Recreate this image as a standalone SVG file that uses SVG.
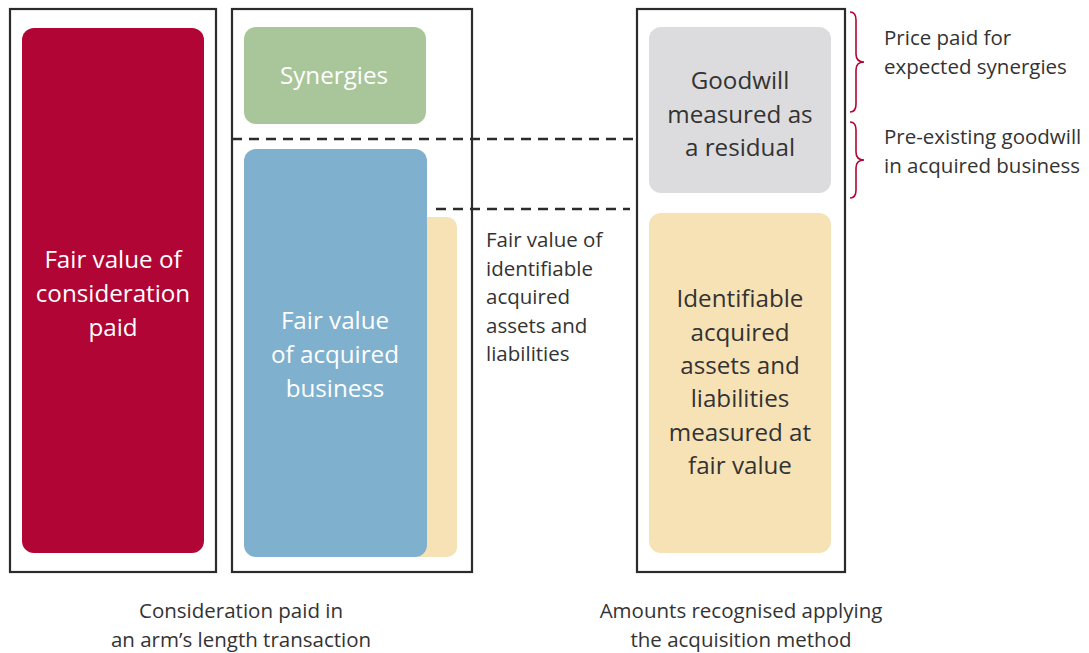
<svg xmlns="http://www.w3.org/2000/svg" width="1089" height="653" viewBox="0 0 1089 653">
<style>
.frame{fill:none;stroke:#2b2b2b;stroke-width:2.2}
.dash{stroke:#2b2b2b;stroke-width:2.5;stroke-dasharray:10,7;fill:none}
.brace{fill:none;stroke:#b10535;stroke-width:1.6}
text{font-family:"Open Sans","Noto Sans",sans-serif;fill:#333}
.big{font-size:24.2px;text-anchor:middle}
.w{fill:#fff}
.sm{font-size:20.5px}
.cap{font-size:20.5px;text-anchor:middle}
</style>
<rect width="1089" height="653" fill="#fff"/>
<g id="connectors">
<line class="dash" x1="232" y1="139" x2="634" y2="139"/>
<line class="dash" x1="436" y1="209" x2="630" y2="209"/>
<path class="brace" d="M850,12 Q856,12 856,20 L856,54 Q856,62 864,62 Q856,62 856,70 L856,104 Q856,112 850,112"/>
<path class="brace" d="M850,122 Q856,122 856,130 L856,152 Q856,160 864,160 Q856,160 856,168 L856,190 Q856,198 850,198"/>
</g>
<g id="frame1"><rect class="frame" x="10" y="9" width="206" height="563"/></g>
<g id="frame2"><rect class="frame" x="232" y="9" width="240" height="563"/></g>
<g id="frame3"><rect class="frame" x="637" y="9" width="208" height="563"/></g>
<g id="consideration">
<rect x="22" y="28" width="182" height="525" rx="12" fill="#b10535"/>
<text class="big w" x="113" y="268">Fair value of</text>
<text class="big w" x="113" y="302">consideration</text>
<text class="big w" x="113" y="336">paid</text>
</g>
<g id="synergies">
<rect x="244" y="27" width="182" height="97" rx="12" fill="#a9c69a"/>
<text class="big w" x="334" y="84">Synergies</text>
</g>
<g id="identifiable-behind">
<rect x="410" y="217" width="47" height="340" rx="10" fill="#f7e2b6"/>
</g>
<g id="acquired-business">
<rect x="244" y="149" width="183" height="408" rx="12" fill="#7fb0ce"/>
<text class="big w" x="335" y="329">Fair value</text>
<text class="big w" x="335" y="363">of acquired</text>
<text class="big w" x="335" y="397">business</text>
</g>
<g id="fv-label">
<text class="sm" x="486" y="247">Fair value of</text>
<text class="sm" x="486" y="276">identifiable</text>
<text class="sm" x="486" y="304">acquired</text>
<text class="sm" x="486" y="333">assets and</text>
<text class="sm" x="486" y="361">liabilities</text>
</g>
<g id="goodwill">
<rect x="649" y="27" width="182" height="166" rx="12" fill="#dcdcde"/>
<text class="big" x="740" y="89">Goodwill</text>
<text class="big" x="740" y="123">measured as</text>
<text class="big" x="740" y="156">a residual</text>
</g>
<g id="identifiable">
<rect x="649" y="213" width="182" height="340" rx="12" fill="#f7e2b6"/>
<text class="big" x="740" y="307">Identifiable</text>
<text class="big" x="740" y="341">acquired</text>
<text class="big" x="740" y="374">assets and</text>
<text class="big" x="740" y="407">liabilities</text>
<text class="big" x="740" y="441">measured at</text>
<text class="big" x="740" y="474">fair value</text>
</g>
<g id="brace-labels">
<text class="sm" x="884" y="45">Price paid for</text>
<text class="sm" x="884" y="74">expected synergies</text>
<text class="sm" x="884" y="144">Pre-existing goodwill</text>
<text class="sm" x="884" y="173">in acquired business</text>
</g>
<g id="captions">
<text class="cap" x="241" y="618">Consideration paid in</text>
<text class="cap" x="241" y="647">an arm’s length transaction</text>
<text class="cap" x="741" y="618">Amounts recognised applying</text>
<text class="cap" x="741" y="647">the acquisition method</text>
</g>
</svg>
